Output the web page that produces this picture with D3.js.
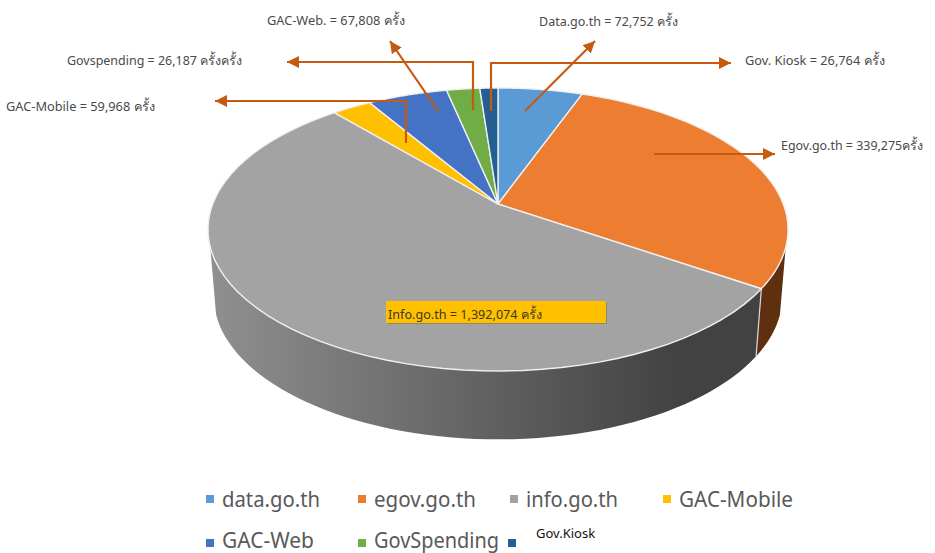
<!DOCTYPE html>
<html>
<head>
<meta charset="utf-8">
<script src="https://cdn.jsdelivr.net/npm/d3@7"></script>
<style>
  body { margin: 0; background: #fff; }
  text { font-family: "Noto Sans", "Open Sans", "DejaVu Sans", sans-serif; }
</style>
</head>
<body>
<script>
// slices, legend order
var categories = ["data.go.th", "egov.go.th", "info.go.th", "GAC-Mobile", "GAC-Web", "GovSpending", "Gov.Kiosk"];
// share of the circle as drawn in the picture (%), not the same as the label counts
var shares = [5.6, 28.8, 54.3, 2.6, 5.3, 2.2, 1.2];
var colors = ["#5b9bd5", "#ed7d31", "#a3a3a3", "#ffc000", "#4472c4", "#70ad47", "#255e91"];
var labels = [
    "Data.go.th = 72,752 ครั้ง",
    "Egov.go.th = 339,275ครั้ง",
    "Info.go.th = 1,392,074 ครั้ง",
    "GAC-Mobile = 59,968 ครั้ง",
    "GAC-Web. = 67,808 ครั้ง",
    "Govspending = 26,187 ครั้งครั้ง",
    "Gov. Kiosk = 26,764 ครั้ง"
];

var width = 935, height = 553;
var cx = 498, cy = 204;
// tilted circle: perspective puts the apex above the middle of the ellipse
var persp = 0.18, kx = 285.3, ky = 136.9;
var depth = 67, lowerX = 0.98, lowerY = 1.01, midY = 229.5;

function topRim(a) {
    var X = Math.sin(a), Y = Math.cos(a), w = 1 + persp * Y;
    return [cx + kx * X / w, cy - ky * Y / w];
}
function lowRim(a) {
    var p = topRim(a);
    return [cx + (p[0] - cx) * lowerX, midY + depth + (p[1] - midY) * lowerY];
}

var svg = d3.select("body").append("svg")
    .attr("width", width)
    .attr("height", height)
    .style("display", "block");

var defs = svg.append("defs");
var gradGray = defs.append("linearGradient").attr("id", "wallGray")
    .attr("gradientUnits", "userSpaceOnUse")
    .attr("x1", 208).attr("x2", 762).attr("y1", 0).attr("y2", 0);
gradGray.append("stop").attr("offset", "0%").attr("stop-color", "#909090");
gradGray.append("stop").attr("offset", "45%").attr("stop-color", "#666666");
gradGray.append("stop").attr("offset", "85%").attr("stop-color", "#424242");
gradGray.append("stop").attr("offset", "100%").attr("stop-color", "#424242");

var arcs = d3.pie().sort(null).value(function(d) { return d; })(shares);
var line = d3.line();

// side wall, only the part that faces us
var edgeA = Math.PI - Math.acos(0.3), edgeB = Math.PI + Math.acos(0.3);
arcs.forEach(function(d, i) {
    var a0 = Math.max(d.startAngle, edgeA), a1 = Math.min(d.endAngle, edgeB);
    if (a1 <= a0) return;
    var steps = d3.range(0, 61).map(function(k) { return a0 + (a1 - a0) * k / 60; });
    var pts = steps.map(topRim).concat(steps.slice().reverse().map(lowRim));
    svg.append("path")
        .attr("d", line(pts) + "Z")
        .attr("fill", i == 1 ? "#5e3010" : (i == 2 ? "url(#wallGray)" : colors[i]))
        .attr("stroke", "none");
    if (i == 2) {
        svg.append("path")
            .attr("d", line([topRim(d.startAngle), lowRim(d.startAngle)]))
            .attr("stroke", "#d9d9d9").attr("stroke-width", 1.2);
    }
});

// top face
arcs.forEach(function(d, i) {
    var steps = d3.range(0, 61).map(function(k) { return d.startAngle + (d.endAngle - d.startAngle) * k / 60; });
    svg.append("path")
        .attr("d", line([[cx, cy]].concat(steps.map(topRim))) + "Z")
        .attr("fill", colors[i])
        .attr("stroke", "#f0f0f0")
        .attr("stroke-width", 1.4)
        .attr("stroke-linejoin", "round");
});

// Info box
svg.append("rect").attr("x", 388).attr("y", 302).attr("width", 219).attr("height", 22).attr("fill", "#8a8a6a");
svg.append("rect").attr("x", 386).attr("y", 301).attr("width", 220).attr("height", 22).attr("fill", "#ffc000");

// callouts
defs.append("marker").attr("id", "head")
    .attr("markerUnits", "userSpaceOnUse")
    .attr("viewBox", "0 0 12 12")
    .attr("refX", 12).attr("refY", 6)
    .attr("markerWidth", 12).attr("markerHeight", 12)
    .attr("orient", "auto")
    .append("path").attr("d", "M0,0L12,6L0,12Z").attr("fill", "#c55a11");

var callouts = [
    [[525, 111], [595, 41]],
    [[654, 154], [775, 154]],
    [[406, 143], [406, 101], [215, 101]],
    [[438, 111], [390, 41]],
    [[473, 110], [473, 62], [287, 62]],
    [[491, 111], [491, 63], [731, 63]]
];
callouts.forEach(function(c) {
    svg.append("path")
        .attr("d", line(c))
        .attr("fill", "none")
        .attr("stroke", "#c55a11")
        .attr("stroke-width", 2.2)
        .attr("marker-end", "url(#head)");
});

function fitText(sel, w) {
    return sel.attr("textLength", w).attr("lengthAdjust", "spacingAndGlyphs");
}

var labelPos = [
    [539, 26, 139], [781, 150, 142], [388, 319, 154],
    [6, 111, 149], [267, 25, 138], [67, 65, 175], [745, 65, 140]
];
labels.forEach(function(t, i) {
    fitText(svg.append("text")
        .attr("x", labelPos[i][0])
        .attr("y", labelPos[i][1])
        .attr("font-size", 12.5)
        .attr("fill", i == 2 ? "#3a3a20" : "#4a4a4a")
        .text(t), labelPos[i][2]);
});

// legend: x, square top, text baseline, text width, font size
var legendPos = [
    [206, 495, 507, 98, 22], [358, 495, 507, 102, 22], [510, 495, 507, 92, 22], [663, 495, 507, 114, 22],
    [206, 539, 548, 92, 21], [358, 539, 548, 125, 21], [508, 539, 548, 0, 21]
];
categories.forEach(function(c, i) {
    var p = legendPos[i];
    svg.append("rect")
        .attr("x", p[0]).attr("y", p[1])
        .attr("width", 8).attr("height", 8)
        .attr("fill", colors[i]);
    if (i == 6) {
        svg.append("text")
            .attr("x", 536).attr("y", 538)
            .attr("font-size", 13).attr("fill", "#111")
            .text(c);
    } else {
        fitText(svg.append("text")
            .attr("x", p[0] + 16).attr("y", p[2])
            .attr("font-size", p[4])
            .attr("fill", "#595959")
            .text(c), p[3]);
    }
});
</script>
</body>
</html>
